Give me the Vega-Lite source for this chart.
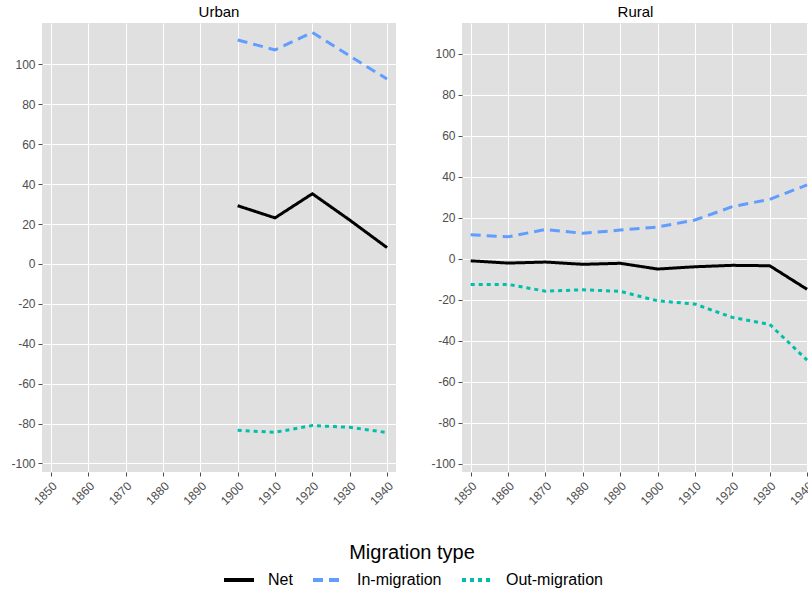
{
  "$schema": "https://vega.github.io/schema/vega-lite/v6.json",
  "padding": {"left": 10, "top": 5, "right": 0, "bottom": 0},
  "background": "white",
  "datasets": {
    "mig": [
      {"area": "Urban", "year": 1900, "type": "Net", "value": 29.2},
      {"area": "Urban", "year": 1910, "type": "Net", "value": 23.1},
      {"area": "Urban", "year": 1920, "type": "Net", "value": 35.2},
      {"area": "Urban", "year": 1930, "type": "Net", "value": 22.0},
      {"area": "Urban", "year": 1940, "type": "Net", "value": 8.2},
      {"area": "Urban", "year": 1900, "type": "In-migration", "value": 112.3},
      {"area": "Urban", "year": 1910, "type": "In-migration", "value": 107.3},
      {"area": "Urban", "year": 1920, "type": "In-migration", "value": 116.1},
      {"area": "Urban", "year": 1930, "type": "In-migration", "value": 104.3},
      {"area": "Urban", "year": 1940, "type": "In-migration", "value": 92.7},
      {"area": "Urban", "year": 1900, "type": "Out-migration", "value": -83.4},
      {"area": "Urban", "year": 1910, "type": "Out-migration", "value": -84.4},
      {"area": "Urban", "year": 1920, "type": "Out-migration", "value": -81.0},
      {"area": "Urban", "year": 1930, "type": "Out-migration", "value": -81.9},
      {"area": "Urban", "year": 1940, "type": "Out-migration", "value": -84.5},
      {"area": "Rural", "year": 1850, "type": "Net", "value": -1.1},
      {"area": "Rural", "year": 1860, "type": "Net", "value": -2.2},
      {"area": "Rural", "year": 1870, "type": "Net", "value": -1.7},
      {"area": "Rural", "year": 1880, "type": "Net", "value": -2.8},
      {"area": "Rural", "year": 1890, "type": "Net", "value": -2.3},
      {"area": "Rural", "year": 1900, "type": "Net", "value": -5.1},
      {"area": "Rural", "year": 1910, "type": "Net", "value": -4.0},
      {"area": "Rural", "year": 1920, "type": "Net", "value": -3.3},
      {"area": "Rural", "year": 1930, "type": "Net", "value": -3.5},
      {"area": "Rural", "year": 1940, "type": "Net", "value": -15.0},
      {"area": "Rural", "year": 1850, "type": "In-migration", "value": 11.6},
      {"area": "Rural", "year": 1860, "type": "In-migration", "value": 10.6},
      {"area": "Rural", "year": 1870, "type": "In-migration", "value": 14.2},
      {"area": "Rural", "year": 1880, "type": "In-migration", "value": 12.3},
      {"area": "Rural", "year": 1890, "type": "In-migration", "value": 13.9},
      {"area": "Rural", "year": 1900, "type": "In-migration", "value": 15.4},
      {"area": "Rural", "year": 1910, "type": "In-migration", "value": 18.8},
      {"area": "Rural", "year": 1920, "type": "In-migration", "value": 25.3},
      {"area": "Rural", "year": 1930, "type": "In-migration", "value": 28.9},
      {"area": "Rural", "year": 1940, "type": "In-migration", "value": 35.9},
      {"area": "Rural", "year": 1850, "type": "Out-migration", "value": -12.6},
      {"area": "Rural", "year": 1860, "type": "Out-migration", "value": -12.6},
      {"area": "Rural", "year": 1870, "type": "Out-migration", "value": -15.9},
      {"area": "Rural", "year": 1880, "type": "Out-migration", "value": -15.2},
      {"area": "Rural", "year": 1890, "type": "Out-migration", "value": -16.0},
      {"area": "Rural", "year": 1900, "type": "Out-migration", "value": -20.6},
      {"area": "Rural", "year": 1910, "type": "Out-migration", "value": -22.2},
      {"area": "Rural", "year": 1920, "type": "Out-migration", "value": -28.7},
      {"area": "Rural", "year": 1930, "type": "Out-migration", "value": -32.1},
      {"area": "Rural", "year": 1940, "type": "Out-migration", "value": -49.5}
    ]
  },
  "spacing": 34,
  "hconcat": [
    {
      "width": 354,
      "height": 449,
      "title": "Urban",
      "layer": [
        {
          "mark": {"type": "rule", "color": "white", "strokeWidth": 3},
          "encoding": {"y": {"datum": 0, "type": "quantitative", "scale": {"domain": [-104.3, 120.8], "nice": false, "zero": false}}}
        },
        {
          "data": {"name": "mig"},
          "transform": [{"filter": "datum.area === 'Urban'"}],
          "mark": {"type": "line", "strokeWidth": 3, "clip": true},
          "encoding": {
            "x": {"field": "year", "type": "quantitative", "scale": {"domain": [1847.6, 1942.4], "nice": false, "zero": false},
                  "axis": {"values": [1850, 1860, 1870, 1880, 1890, 1900, 1910, 1920, 1930, 1940], "labelExpr": "'' + datum.value", "labelAngle": -45, "labelFontSize": 12, "labelPadding": 4, "title": null}},
            "y": {"field": "value", "type": "quantitative", "scale": {"domain": [-104.3, 120.8], "nice": false, "zero": false},
                  "axis": {"values": [-100, -80, -60, -40, -20, 0, 20, 40, 60, 80, 100], "labelExpr": "datum.value < 0 ? '-' + abs(datum.value) : '' + datum.value", "title": null}},
            "color": {"field": "type", "type": "nominal", "scale": {"domain": ["Net", "In-migration", "Out-migration"], "range": ["#000000", "#619CFF", "#00BFA8"]}, "legend": {"title": "Migration type"}},
            "strokeDash": {"field": "type", "type": "nominal", "scale": {"domain": ["Net", "In-migration", "Out-migration"], "range": [[1, 0], [10, 6], [4, 4]]}, "legend": {"title": "Migration type"}}
          }
        }
      ]
    },
    {
      "width": 347,
      "height": 449,
      "title": "Rural",
      "layer": [
        {
          "mark": {"type": "rule", "color": "white", "strokeWidth": 3},
          "encoding": {"y": {"datum": 0, "type": "quantitative", "scale": {"domain": [-104.1, 114.9], "nice": false, "zero": false}}}
        },
        {
          "data": {"name": "mig"},
          "transform": [{"filter": "datum.area === 'Rural'"}],
          "mark": {"type": "line", "strokeWidth": 3, "clip": true},
          "encoding": {
            "x": {"field": "year", "type": "quantitative", "scale": {"domain": [1847.67, 1940.52], "nice": false, "zero": false},
                  "axis": {"values": [1850, 1860, 1870, 1880, 1890, 1900, 1910, 1920, 1930, 1940], "labelExpr": "'' + datum.value", "labelAngle": -45, "labelFontSize": 12, "labelPadding": 4, "title": null}},
            "y": {"field": "value", "type": "quantitative", "scale": {"domain": [-104.1, 114.9], "nice": false, "zero": false},
                  "axis": {"values": [-100, -80, -60, -40, -20, 0, 20, 40, 60, 80, 100], "labelExpr": "datum.value < 0 ? '-' + abs(datum.value) : '' + datum.value", "title": null}},
            "color": {"field": "type", "type": "nominal", "scale": {"domain": ["Net", "In-migration", "Out-migration"], "range": ["#000000", "#619CFF", "#00BFA8"]}, "legend": {"title": "Migration type"}},
            "strokeDash": {"field": "type", "type": "nominal", "scale": {"domain": ["Net", "In-migration", "Out-migration"], "range": [[1, 0], [10, 6], [4, 4]]}, "legend": {"title": "Migration type"}}
          }
        }
      ]
    }
  ],
  "resolve": {"scale": {"y": "independent", "x": "independent"}},
  "config": {
    "font": "Liberation Sans",
    "view": {"fill": "#E0E0E0", "stroke": null},
    "title": {"fontSize": 15, "fontWeight": "normal", "color": "#000000", "offset": 3, "anchor": "middle"},
    "axis": {
      "domain": false,
      "grid": true,
      "gridColor": "#FFFFFF",
      "gridWidth": 1,
      "gridOpacity": 1,
      "tickColor": "#4D4D4D",
      "tickSize": 4,
      "labelColor": "#4D4D4D",
      "labelFontSize": 12,
      "labelPadding": 3
    },
    "legend": {
      "orient": "bottom",
      "direction": "horizontal",
      "titleOrient": "top",
      "titleAnchor": "middle",
      "titleFontSize": 20,
      "titleFontWeight": "normal",
      "titleColor": "#000000",
      "titlePadding": 0,
      "labelFontSize": 16,
      "labelColor": "#000000",
      "labelOffset": 12,
      "symbolType": "stroke",
      "symbolStrokeWidth": 4,
      "symbolSize": 900,
      "columnPadding": 12,
      "offset": 36,
      "layout": {"bottom": {"anchor": "middle"}}
    }
  }
}
